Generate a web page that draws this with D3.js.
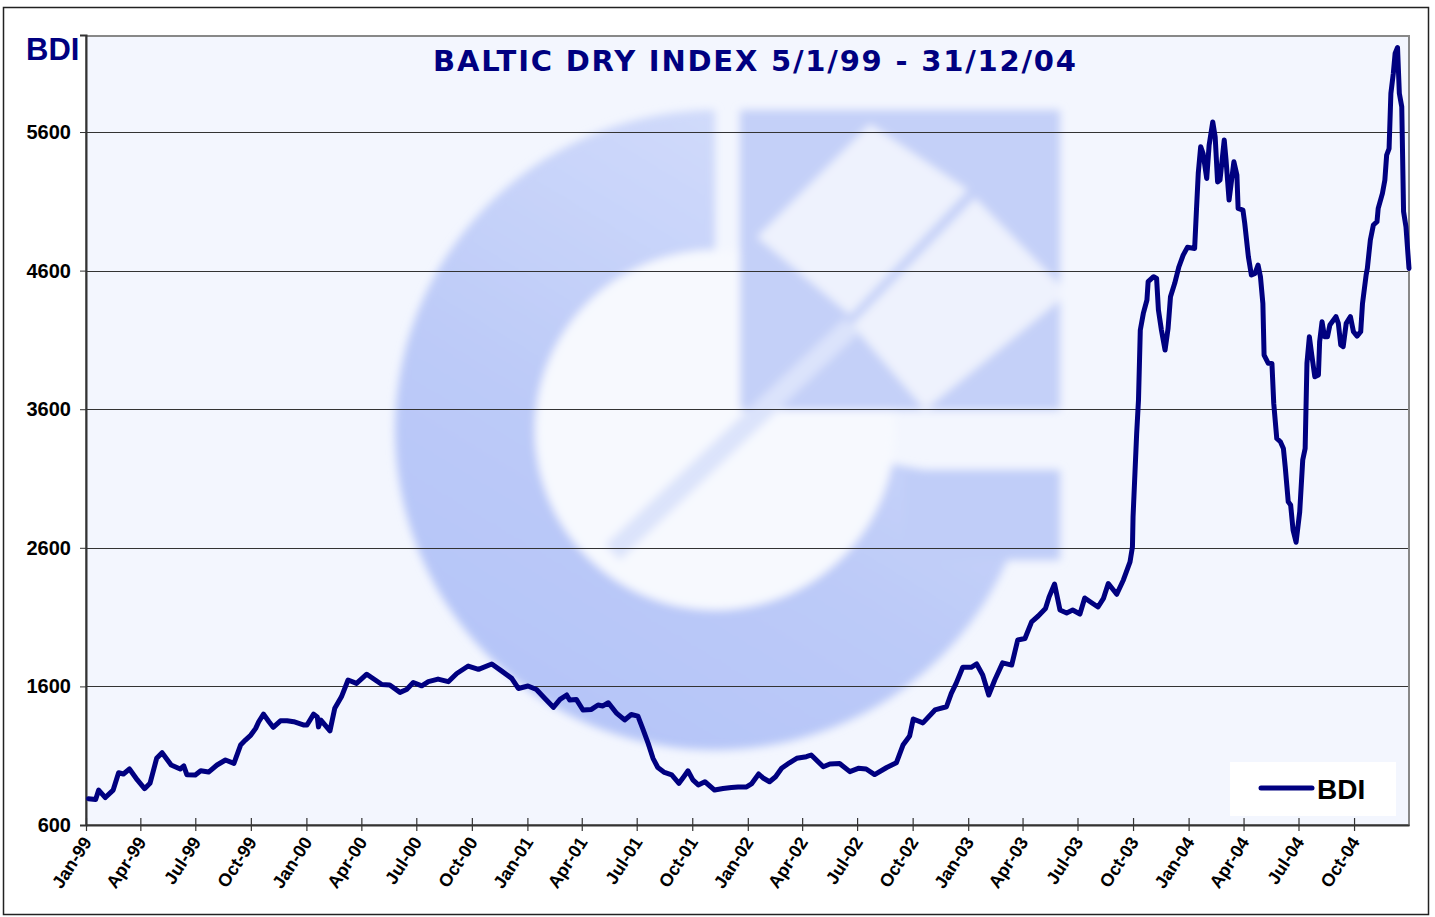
<!DOCTYPE html>
<html><head><meta charset="utf-8">
<script src="https://cdn.jsdelivr.net/npm/d3@7"></script>
<style>body{margin:0;background:#fff;} svg{display:block;font-family:"Liberation Sans",Arial,sans-serif;}</style>
</head><body><svg id="c" width="1435" height="917"></svg>
<script>
const titleText = "BALTIC DRY INDEX 5/1/99 - 31/12/04";
const seriesName = "BDI";
const yTicks = [600, 1600, 2600, 3600, 4600, 5600];
const xTickStarts = ["1999-01-01","1999-04-01","1999-07-01","1999-10-01","2000-01-01","2000-04-01","2000-07-01","2000-10-01","2001-01-01","2001-04-01","2001-07-01","2001-10-01","2002-01-01","2002-04-01","2002-07-01","2002-10-01","2003-01-01","2003-04-01","2003-07-01","2003-10-01","2004-01-01","2004-04-01","2004-07-01","2004-10-01"];
const dates = [
"1999-01-05","1999-01-17","1999-01-22","1999-02-02","1999-02-15","1999-02-24","1999-03-04","1999-03-14","1999-03-27","1999-04-08","1999-04-17","1999-04-28","1999-05-07","1999-05-22","1999-06-06","1999-06-12","1999-06-17","1999-07-01","1999-07-10","1999-07-23","1999-08-06","1999-08-20","1999-09-03","1999-09-14","1999-09-22","1999-10-01","1999-10-09","1999-10-14","1999-10-22","1999-10-31","1999-11-07","1999-11-19","1999-11-30","1999-12-11","1999-12-28",
"2000-01-02","2000-01-13","2000-01-19","2000-01-21","2000-01-25","2000-02-09","2000-02-17","2000-02-28","2000-03-10","2000-03-24","2000-04-10","2000-04-24","2000-05-05","2000-05-18","2000-06-04","2000-06-15","2000-06-26","2000-07-10","2000-07-21","2000-08-06","2000-08-23","2000-09-06","2000-09-25","2000-10-12","2000-11-03","2000-11-19","2000-12-06","2000-12-17",
"2001-01-02","2001-01-16","2001-01-30","2001-02-13","2001-02-24","2001-03-07","2001-03-12","2001-03-23","2001-04-03","2001-04-17","2001-04-28","2001-05-06","2001-05-15","2001-05-29","2001-06-11","2001-06-22","2001-07-03","2001-07-11","2001-07-20","2001-07-28","2001-08-05","2001-08-16","2001-08-28","2001-09-09","2001-09-17","2001-09-24","2001-10-02","2001-10-11","2001-10-22","2001-11-07","2001-11-21","2001-12-05","2001-12-16","2001-12-30",
"2002-01-07","2002-01-19","2002-01-27","2002-02-06","2002-02-16","2002-02-26","2002-03-11","2002-03-23","2002-04-08","2002-04-16","2002-05-06","2002-05-17","2002-06-02","2002-06-19","2002-07-03","2002-07-16","2002-07-30","2002-08-19","2002-09-04","2002-09-15","2002-09-26","2002-10-02","2002-10-18","2002-11-07","2002-11-26","2002-12-04","2002-12-12","2002-12-23",
"2003-01-06","2003-01-15","2003-01-25","2003-02-04","2003-02-14","2003-02-27","2003-03-14","2003-03-24","2003-04-05","2003-04-16","2003-04-27","2003-05-09","2003-05-15","2003-05-24","2003-06-02","2003-06-13","2003-06-23","2003-07-05","2003-07-13","2003-07-25","2003-08-04","2003-08-13","2003-08-21","2003-09-04","2003-09-15","2003-09-26","2003-09-30","2003-10-01","2003-10-07","2003-10-10","2003-10-13","2003-10-18","2003-10-24","2003-10-26","2003-11-04","2003-11-09","2003-11-12","2003-11-17","2003-11-23","2003-11-28","2003-12-02","2003-12-09","2003-12-16","2003-12-23","2003-12-30",
"2004-01-11","2004-01-14","2004-01-17","2004-01-21","2004-01-25","2004-01-31","2004-02-04","2004-02-10","2004-02-14","2004-02-18","2004-02-22","2004-02-29","2004-03-03","2004-03-08","2004-03-16","2004-03-21","2004-03-23","2004-03-31","2004-04-03","2004-04-09","2004-04-14","2004-04-20","2004-04-25","2004-04-29","2004-05-03","2004-05-05","2004-05-12","2004-05-18","2004-05-21","2004-05-26","2004-06-01","2004-06-06","2004-06-09","2004-06-14","2004-06-18","2004-06-22","2004-06-27","2004-07-03","2004-07-08","2004-07-12","2004-07-15","2004-07-19","2004-07-23","2004-07-28","2004-08-03","2004-08-05","2004-08-09","2004-08-13","2004-08-18","2004-08-22","2004-09-01","2004-09-05","2004-09-09","2004-09-13","2004-09-18","2004-09-25","2004-09-30","2004-10-06","2004-10-12","2004-10-15","2004-10-21","2004-10-23","2004-10-28","2004-11-02","2004-11-08","2004-11-10","2004-11-17","2004-11-21","2004-11-24","2004-11-28","2004-12-01","2004-12-05","2004-12-08","2004-12-12","2004-12-15","2004-12-19","2004-12-22","2004-12-26","2004-12-31"
];
const bdi = [
790,784,852,798,852,977,968,1004,925,862,901,1081,1122,1033,1004,1026,963,961,991,982,1033,1069,1045,1177,1213,1249,1297,1345,1400,1345,1305,1352,1352,1345,1321,
1321,1400,1380,1308,1357,1279,1442,1525,1646,1622,1688,1646,1614,1610,1557,1578,1628,1604,1634,1653,1634,1693,1747,1723,1762,1712,1658,1585,
1603,1578,1513,1449,1506,1538,1502,1506,1430,1434,1466,1459,1482,1405,1358,1397,1386,1296,1189,1081,1015,979,961,901,948,991,925,889,912,852,863,871,875,875,
896,968,937,912,948,1009,1049,1081,1093,1105,1020,1040,1044,985,1009,1004,964,1015,1049,1177,1242,1365,1337,1430,1453,1550,1622,1738,
1738,1762,1682,1538,1646,1770,1754,1935,1946,2066,2108,2162,2246,2339,2151,2130,2151,2122,2238,2202,2173,2235,2342,2265,2368,2499,2607,2823,3425,3666,4171,4291,4388,4520,4556,4543,4316,4171,4027,4183,4411,4508,4628,4712,4768,
4760,5037,5302,5494,5445,5265,5506,5673,5565,5240,5253,5542,5398,5109,5385,5290,5049,5037,4940,4700,4568,4580,4640,4556,4363,3991,3931,3930,3642,3389,3365,3317,3185,2932,2909,2728,2640,2859,3233,3317,3931,4123,3991,3834,3847,4087,4231,4123,4123,4208,4268,4219,4063,4051,4219,4268,4159,4128,4159,4363,4568,4616,4821,4929,4953,5049,5157,5253,5434,5481,5879,6022,6167,6210,5879,5782,5025,4916,4616
];

const parse = d3.timeParse("%Y-%m-%d");
const data = dates.map((d, i) => ({date: parse(d), value: bdi[i]}));
const svg = d3.select("#c");
const L = 86, R = 1409, T = 36, B = 825;
const x = d3.scaleTime().domain([parse("1999-01-01"), parse("2004-12-31")]).range([L, R]);
const y = d3.scaleLinear().domain([600, 6300]).range([B, 35]);

// outer frame
svg.append("rect").attr("x", 3.5).attr("y", 7.5).attr("width", 1425).attr("height", 907)
  .attr("fill", "#fff").attr("stroke", "#222").attr("stroke-width", 1.5);

const defs = svg.append("defs");
defs.append("clipPath").attr("id", "plotclip").append("rect")
  .attr("x", L).attr("y", T).attr("width", R - L).attr("height", B - T);
defs.append("filter").attr("id", "soft").attr("x", "-10%").attr("y", "-10%").attr("width", "120%").attr("height", "120%")
  .append("feGaussianBlur").attr("stdDeviation", 4);
const grad = defs.append("linearGradient").attr("id", "wmg")
  .attr("x1", "0.8").attr("y1", "0").attr("x2", "0.2").attr("y2", "1");
grad.append("stop").attr("offset", "0").attr("stop-color", "#d6dffb");
grad.append("stop").attr("offset", "0.6").attr("stop-color", "#bccaf8");
grad.append("stop").attr("offset", "1").attr("stop-color", "#b4c4f8");

// plot background
svg.append("rect").attr("x", L).attr("y", T).attr("width", R - L).attr("height", B - T)
  .attr("fill", "#f3f6fe");

// watermark logo
const wm = svg.append("g").attr("clip-path", "url(#plotclip)").append("g").attr("filter", "url(#soft)");
const cx = 715, cy = 430;
wm.append("path").attr("transform", `translate(${cx},${cy})`)
  .attr("d", d3.arc()({innerRadius: 180, outerRadius: 320, startAngle: Math.PI * 0.56, endAngle: Math.PI * 2}))
  .attr("fill", "url(#wmg)");
wm.append("circle").attr("cx", cx).attr("cy", cy).attr("r", 180).attr("fill", "#f7f9fe");
wm.append("rect").attr("x", 905).attr("y", 470).attr("width", 155).attr("height", 90).attr("fill", "#c0cdf8");
wm.append("rect").attr("x", 740).attr("y", 110).attr("width", 320).attr("height", 300).attr("fill", "#c4d0f8");
wm.append("path").attr("d", "M757,237 L870,124 L968,190 L850,315 Z").attr("fill", "#eef2fd");
wm.append("path").attr("d", "M852,325 L975,198 L1060,285 L1060,300 L925,410 Z").attr("fill", "#eef2fd");
wm.append("path").attr("d", "M605,545 L845,318 L860,332 L620,560 Z").attr("fill", "#dbe3fb");

// gridlines
svg.append("g").selectAll("line").data(yTicks.filter(v => v > 600)).join("line")
  .attr("x1", L).attr("x2", R).attr("y1", d => Math.round(y(d)) + 0.5).attr("y2", d => Math.round(y(d)) + 0.5)
  .attr("stroke", "#333").attr("stroke-width", 1);

// plot border
svg.append("rect").attr("x", L).attr("y", T).attr("width", R - L).attr("height", B - T)
  .attr("fill", "none").attr("stroke", "#888").attr("stroke-width", 2);

// axes
const yAxis = d3.axisLeft(y).tickValues(yTicks).tickSize(6).tickPadding(9).tickFormat(d3.format("d"));
const gy = svg.append("g").attr("transform", `translate(${L},0)`).call(yAxis);
gy.select(".domain").attr("stroke", "#333").attr("stroke-width", 2);
gy.selectAll(".tick line").attr("stroke", "#333");
gy.selectAll(".tick text").attr("font-size", 20).attr("font-weight", "bold").attr("fill", "#000")
  .attr("font-family", "Liberation Sans, Arial, sans-serif");

const xAxis = d3.axisBottom(x).tickValues(xTickStarts.map(parse)).tickSize(0).tickFormat(d3.timeFormat("%b-%y"));
const gx = svg.append("g").attr("transform", `translate(0,${B})`).call(xAxis);
gx.select(".domain").attr("stroke", "#333").attr("stroke-width", 2);
gx.selectAll(".tick").append("line").attr("y1", -7).attr("y2", 6).attr("stroke", "#333").attr("stroke-width", 1.2);
gx.selectAll(".tick text").attr("font-size", 18).attr("font-weight", "bold").attr("fill", "#000")
  .attr("font-family", "Liberation Sans, Arial, sans-serif")
  .attr("text-anchor", "end").attr("dy", null).attr("y", 0)
  .attr("transform", "translate(6,17) rotate(-57)");

// series line
svg.append("path").datum(data)
  .attr("fill", "none").attr("stroke", "#000080").attr("stroke-width", 5)
  .attr("stroke-linejoin", "round").attr("stroke-linecap", "round")
  .attr("d", d3.line().x(d => x(d.date)).y(d => y(d.value)));

// titles
svg.append("text").attr("x", 433).attr("y", 71).attr("textLength", 643).attr("lengthAdjust", "spacing")
  .attr("font-family", "DejaVu Sans, Verdana, sans-serif")
  .attr("font-size", 29).attr("font-weight", "bold").attr("fill", "#000080").text(titleText);
svg.append("text").attr("x", 26).attr("y", 60).attr("font-size", 31).attr("font-weight", "bold")
  .attr("fill", "#000080").text(seriesName);

// legend
const lg = svg.append("g");
lg.append("rect").attr("x", 1230).attr("y", 762).attr("width", 166).attr("height", 54).attr("fill", "#fff");
lg.append("line").attr("x1", 1261).attr("x2", 1312).attr("y1", 788).attr("y2", 788)
  .attr("stroke", "#000080").attr("stroke-width", 5).attr("stroke-linecap", "round");
lg.append("text").attr("x", 1317).attr("y", 799).attr("font-size", 28).attr("font-weight", "bold")
  .attr("fill", "#000").text(seriesName);
</script></body></html>
